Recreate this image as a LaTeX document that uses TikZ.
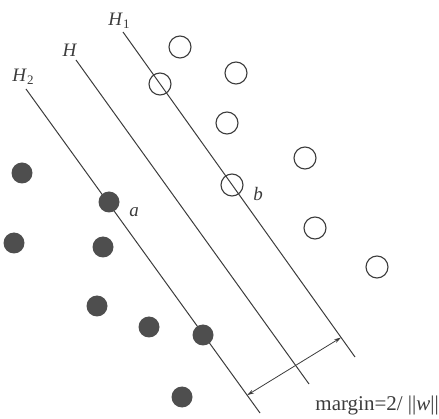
\documentclass[tikz,border=0pt]{standalone}
\usepackage{fontspec}
\setmainfont{Liberation Serif}
\usetikzlibrary{arrows.meta,calc}
\definecolor{ink}{HTML}{3C3C3C}
\definecolor{dot}{HTML}{4E4E4E}
\begin{document}
\begin{tikzpicture}[x=1pt,y=-1pt,
  opensample/.style={circle,draw=ink,line width=1.1pt,minimum size=22pt,inner sep=0pt},
  fullsample/.style={circle,fill=dot,minimum size=21pt,inner sep=0pt},
  hline/.style={draw=ink,line width=1pt},
  lbl/.style={text=ink,font=\fontsize{19}{21}\selectfont,inner sep=0pt}]
\useasboundingbox (0,0) rectangle (439,419);
% hyperplanes
\coordinate (h1a) at (123,32);  \coordinate (h1b) at (355,357);
\coordinate (ha)  at (76,60);   \coordinate (hb)  at (309,384);
\coordinate (h2a) at (26,89);   \coordinate (h2b) at (260,413);
\draw[hline] (h1a) -- (h1b);
\draw[hline] (ha) -- (hb);
\draw[hline] (h2a) -- (h2b);
% margin arrow
\coordinate (m2) at ($(h2a)!0.945!(h2b)$);
\coordinate (m1) at ($(h1a)!0.94!(h1b)$);
\draw[hline,line width=0.8pt,{Stealth[length=7pt,width=4pt]}-{Stealth[length=7pt,width=4pt]}] (m2) -- (m1);
% positive (open) samples
\node[opensample] (p1) at (180,47) {};
\node[opensample] (p2) at (160,84) {};
\node[opensample] (p3) at (236,73) {};
\node[opensample] (p4) at (227,123) {};
\node[opensample] (p5) at (305,158) {};
\node[opensample] (p6) at (232,185) {};
\node[opensample] (p7) at (315,228) {};
\node[opensample] (p8) at (377,267) {};
% negative (filled) samples
\node[fullsample] (n1) at (22,173) {};
\node[fullsample] (n2) at (109,202) {};
\node[fullsample] (n3) at (14,243) {};
\node[fullsample] (n4) at (103,247) {};
\node[fullsample] (n5) at (97,306) {};
\node[fullsample] (n6) at (149,327) {};
\node[fullsample] (n7) at (203,335) {};
\node[fullsample] (n8) at (182,397) {};
% labels
\node[lbl] (lh1) at (119,21) {\textit{H}\raisebox{-0.35ex}{\fontsize{13}{13}\selectfont 1}};
\node[lbl] (lh) at (70,50) {\textit{H}};
\node[lbl] (lh2) at (23,77) {\textit{H}\raisebox{-0.35ex}{\fontsize{13}{13}\selectfont 2}};
\node[lbl] (la) at (134,212) {\textit{a}};
\node[lbl] (lb) at (258,194) {\textit{b}};
\node[lbl,font=\fontsize{21}{23}\selectfont,anchor=base east] (lm) at (439,410) {margin=2/ ||\textit{w}||};
\end{tikzpicture}
\end{document}
